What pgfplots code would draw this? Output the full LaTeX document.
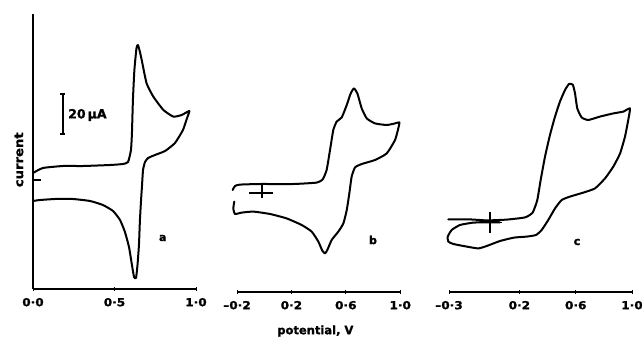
\documentclass[border=0pt]{standalone}
\usepackage{fontspec}
\setmainfont{DejaVu Sans}[BoldFeatures={FakeBold=1.3}]
\usepackage{graphicx}
\usepackage{pgfplots}
\pgfplotsset{compat=1.18}
\newcommand\wide[1]{\scalebox{1.1}[1]{#1}}
\begin{document}
\begin{tikzpicture}
\path[use as bounding box] (0pt,0pt) rectangle (642pt,-337pt);
\pgfplotsset{
  cv/.style={
    clip=false,
    y=2pt,
    ytick=\empty,
    tick align=inside,
    major tick length=4pt,
    major tick style={line width=1pt, black},
    xticklabel style={font=\bfseries\fontsize{11}{12}\selectfont, yshift=-3.5pt},
  },
  noarrows/.style={axis line style={-, line width=1.3pt}, x axis line style={-}, y axis line style={-}},
  curve/.style={black, line width=2pt, line join=round, line cap=round, smooth, tension=0.3, mark=none},
  thin/.style={black, line width=1.2pt, mark=none},
}
% ---------- panel a ----------
\begin{axis}[cv,
  at={(33pt,-289pt)}, anchor=south west,
  x=163pt, xmin=0, xmax=1.0, ymin=-54.5, ymax=83,
  axis x line=bottom, axis y line=left,
  noarrows,
  y axis line style={line width=2.4pt},
  xtick={0,0.5,1.0},
  xticklabels={\wide{0·0},\wide{0·5},\wide{1·0}},
  ylabel={\wide{current}},
  ylabel style={at={(axis description cs:-0.086,0.47)}, anchor=center, font=\bfseries\fontsize{12}{13}\selectfont},
]
\addplot[curve] coordinates {
(0.0,3.5)(0.061,6)(0.184,7)(0.307,7)(0.472,7.5)(0.552,8)(0.583,9)(0.601,15)(0.607,23.5)(0.613,40)(0.622,55)(0.635,66)(0.644,67.5)(0.656,64)(0.667,60)(0.697,48.3)(0.738,41.7)(0.80,35)(0.861,31.7)(0.912,32.5)(0.959,34.5)
(0.945,31)(0.920,25)(0.871,18.5)(0.810,14.5)(0.748,12.5)(0.706,11)(0.687,9)(0.675,5)(0.669,-2.5)(0.663,-10)(0.656,-20)(0.650,-32.5)(0.641,-42.5)(0.632,-49)(0.620,-48.5)(0.607,-42.5)(0.589,-33.5)(0.564,-26)(0.534,-20)(0.491,-15.5)(0.429,-12.5)(0.350,-10.5)(0.245,-9.5)(0.135,-9.5)(0.043,-10)(0.0,-10.5)
};
% zero-current mark
\addplot[thin] coordinates {(0,0)(0.05,0)};
% 20 uA scale bar
\addplot[thin, line width=2pt] coordinates {(0.181,43)(0.181,23)};
\addplot[thin] coordinates {(0.166,43)(0.196,43)};
\addplot[thin] coordinates {(0.166,23)(0.196,23)};
\node[anchor=west, font=\bfseries\fontsize{12.5}{13}\selectfont, inner sep=0pt] at (axis cs:0.215,32.5) {20\,μA};
\node[font=\bfseries\fontsize{11}{12}\selectfont] at (axis cs:0.796,-29) {a};
\end{axis}
% ---------- panel b ----------
\begin{axis}[cv,
  at={(237pt,-292pt)}, anchor=south west,
  x=136pt, xmin=-0.2, xmax=1.0, ymin=-49.5, ymax=56,
  axis x line=bottom, axis y line=none,
  noarrows,
  xtick={-0.2,0.2,0.6,1.0},
  xticklabels={\wide{–0·2},\wide{0·2},\wide{0·6},\wide{1·0}},
  xlabel={potential, V},
  xlabel style={at={(axis description cs:0.48,0)}, anchor=center, yshift=-39pt, font=\bfseries\fontsize{11.5}{12}\selectfont},
]
\addplot[curve] coordinates {
(-0.232,1.5)(-0.215,3.5)(-0.178,4.2)(-0.031,4.5)(0.214,4.5)(0.386,5.2)(0.430,6.8)(0.459,11.5)(0.484,21.5)(0.508,31.5)(0.533,35.7)(0.570,37.8)(0.607,44)(0.636,49.8)(0.660,52.3)(0.685,49.8)(0.717,42.3)(0.754,37.3)(0.815,34.8)(0.901,34)(0.962,34.8)(0.994,35.3)
(0.986,32.3)(0.962,26.5)(0.901,19.8)(0.815,16.5)(0.717,14.5)(0.668,12.8)(0.643,8.2)(0.626,-0.2)(0.607,-8.5)(0.582,-15.2)(0.545,-19.3)(0.496,-23.5)(0.464,-28.5)(0.447,-30.2)(0.427,-28.8)(0.398,-24.3)(0.349,-19.3)(0.276,-16)(0.165,-12.7)(0.043,-10.5)(-0.080,-9.3)(-0.165,-9.8)(-0.215,-10.5)(-0.227,-7.7)(-0.220,-4.3)
};
% marker +
\addplot[thin, line width=1.6pt] coordinates {(-0.112,0)(0.065,0)};
\addplot[thin, line width=1.6pt] coordinates {(-0.018,4)(-0.018,-2.5)};
\node[font=\bfseries\fontsize{11}{12}\selectfont] at (axis cs:0.80,-23.5) {b};
\end{axis}
% ---------- panel c ----------
\begin{axis}[cv,
  at={(449pt,-292pt)}, anchor=south west,
  x=140.8pt, xmin=-0.3, xmax=1.0, ymin=-35, ymax=75,
  axis x line=bottom, axis y line=none,
  noarrows,
  xtick={-0.3,0.2,0.6,1.0},
  xticklabels={\wide{–0·3},\wide{0·2},\wide{0·6},\wide{1·0}},
]
\addplot[curve] coordinates {
(-0.305,1.3)(-0.151,1.3)(-0.032,0.8)(0.110,1.2)(0.240,2.3)(0.294,4.7)(0.327,11)(0.351,21)(0.382,32.7)(0.417,43.5)(0.453,52.7)(0.488,60.2)(0.524,66)(0.552,69)(0.579,68.7)(0.595,64.3)(0.611,56.8)(0.642,52.3)(0.689,51)(0.772,52.7)(0.867,54.3)(0.938,55.2)(0.985,56.8)
(0.973,51)(0.950,42.7)(0.915,34.3)(0.867,27.7)(0.808,21.8)(0.737,16.8)(0.654,14.7)(0.559,12.7)(0.500,11)(0.453,6.8)(0.405,1)(0.358,-4)(0.318,-6.5)(0.252,-7.3)(0.162,-7.8)(0.062,-9.5)(-0.032,-12)(-0.092,-13.2)(-0.174,-12.3)(-0.269,-11)(-0.305,-9.8)(-0.309,-7.3)(-0.281,-4)(-0.222,-1.5)(-0.127,-0.3)(-0.032,-0.2)(0.062,-0.2)
};
% marker +
\addplot[thin, line width=1.6pt] coordinates {(-0.08,-0.2)(0.074,-0.2)};
\addplot[thin, line width=1.6pt] coordinates {(-0.009,5.2)(-0.009,-5.7)};
\node[font=\bfseries\fontsize{11}{12}\selectfont] at (axis cs:0.609,-10) {c};
\end{axis}
\end{tikzpicture}
\end{document}
